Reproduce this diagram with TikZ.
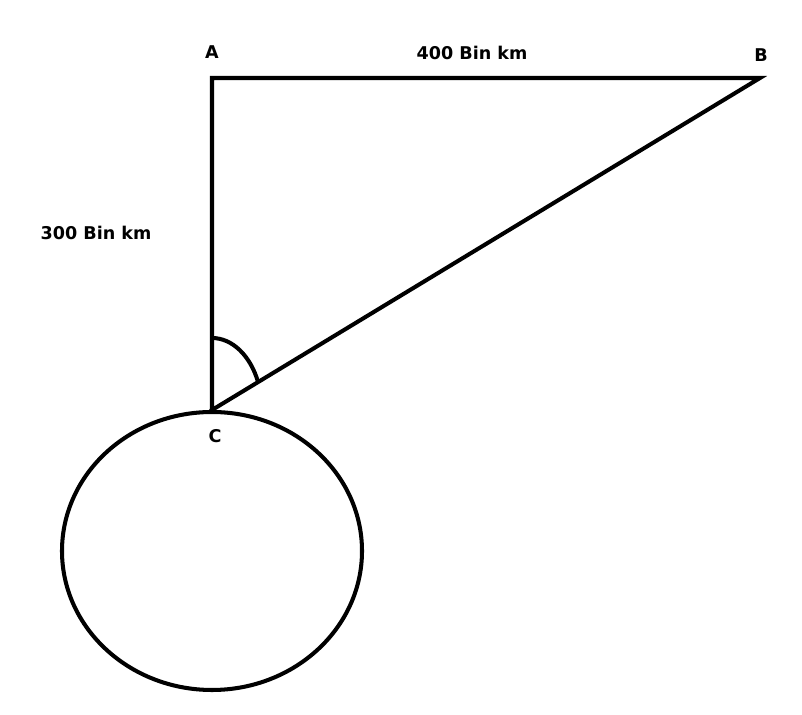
\documentclass[tikz,border=0pt]{standalone}
\usepackage{fontspec}
\setmainfont{DejaVu Sans}
\usetikzlibrary{positioning}
\usetikzlibrary{calc}

\begin{document}
\begin{tikzpicture}[x=0.02cm, y=-0.02cm,
    edge/.style={draw, line width=2.3pt, line cap=rect},
    earth/.style={draw, line width=2.3pt},
    point_label/.style={font=\bfseries\fontsize{10}{12}\selectfont, inner sep=0pt},
    length_label/.style={point_label},
]
\useasboundingbox (0,0) rectangle (802,715);

\coordinate (A) at (212,78);
\coordinate (B) at (760,78);
\coordinate (C) at (212,410);

\node[point_label] (labelA) at (212,52) {A};
\node[point_label] (labelB) at (761,55) {B};
\node[point_label] (labelC) at (215,436) {C};

\node[length_label] (ab) at (472,53) {400 Bin km};
\node[length_label] (ac) at (96,233) {300 Bin km};

\draw[edge] (C) -- (A) -- (B) -- (C);

% angle at C
\draw[earth] ($(C)+(0,-72)$) arc[start angle=90, end angle=23, x radius=50, y radius=-72];

\draw[earth] (212,551) ellipse[x radius=150, y radius=139];

\end{tikzpicture}
\end{document}
